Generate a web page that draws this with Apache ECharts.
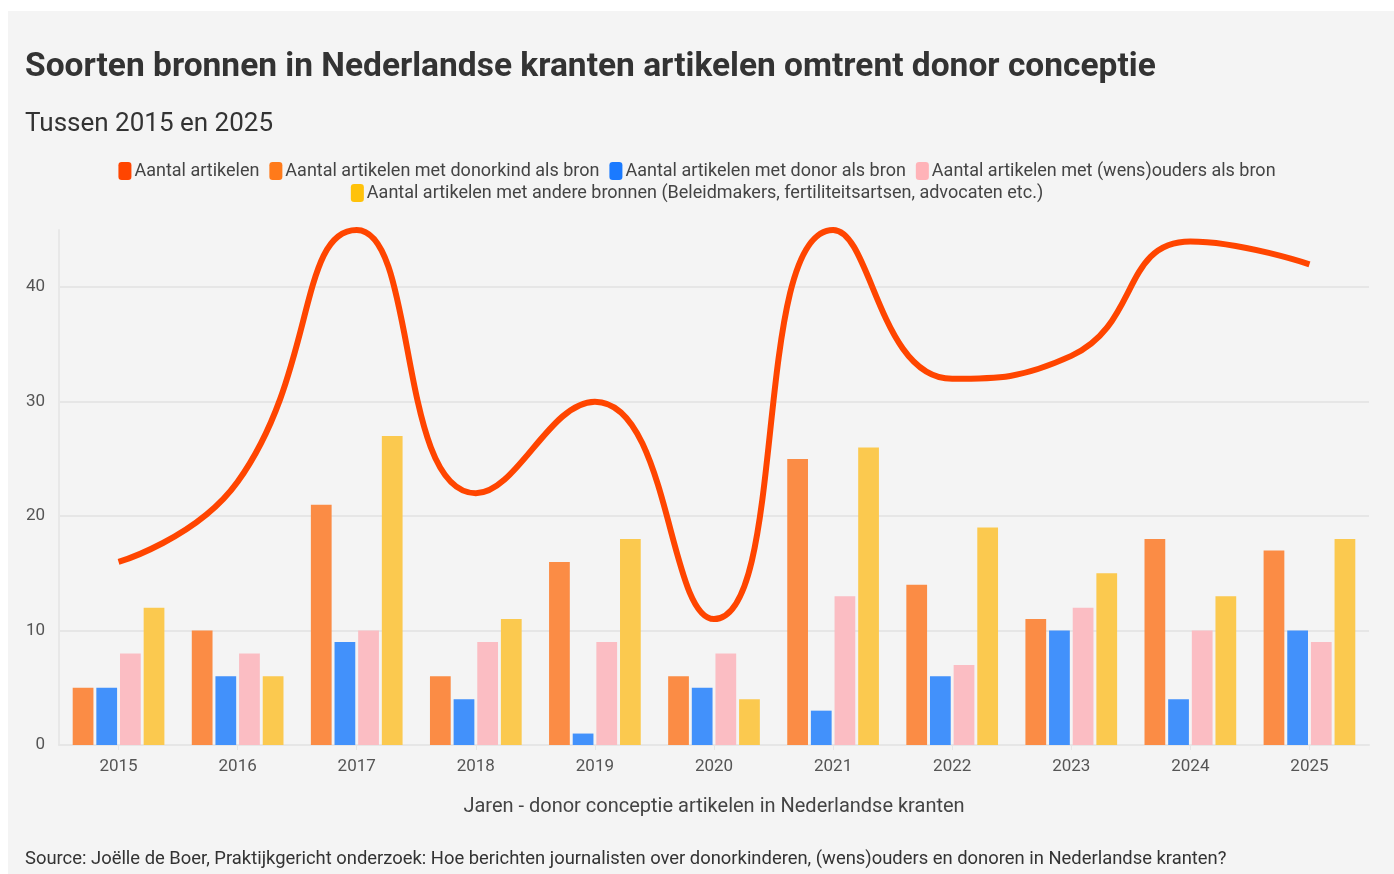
<!DOCTYPE html>
<html><head><meta charset="utf-8">
<script src="https://cdn.jsdelivr.net/npm/echarts@6/dist/echarts.min.js"></script>
<style>
html,body{margin:0;padding:0;background:#fff;}
#panel{position:absolute;left:8px;top:11px;right:0;bottom:0;background:#f4f4f4;}
#c{position:absolute;left:0;top:0;width:1394px;height:874px;}
</style></head>
<body>
<div id="panel"></div>
<div id="c"></div>
<script>
const years = ['2015','2016','2017','2018','2019','2020','2021','2022','2023','2024','2025'];
const totalArticles = [16, 23, 45, 22, 30, 11, 45, 32, 34, 44, 42];
const donorkindSource = [5, 10, 21, 6, 16, 6, 25, 14, 11, 18, 17];
const donorSource = [5, 6, 9, 4, 1, 5, 3, 6, 10, 4, 10];
const parentsSource = [8, 8, 10, 9, 9, 8, 13, 7, 12, 10, 9];
const otherSource = [12, 6, 27, 11, 18, 4, 26, 19, 15, 13, 18];
const seriesNames = [
  'Aantal artikelen',
  'Aantal artikelen met donorkind als bron',
  'Aantal artikelen met donor als bron',
  'Aantal artikelen met (wens)ouders als bron',
  'Aantal artikelen met andere bronnen (Beleidmakers, fertiliteitsartsen, advocaten etc.)'
];
const legendColors = ['#ff4500', '#ff7a1a', '#1a7aff', '#ffb3b8', '#ffc20a'];
const barColors = ['#fb8c45', '#4291fb', '#fbbdc3', '#fbc94f'];

const font = 'Roboto, "Noto Sans", sans-serif';
const chart = echarts.init(document.getElementById('c'), null, {renderer:'canvas'});
const barSeries = (name, data, color) => ({
  name, type:'bar', data, barGap:'14%', barCategoryGap:'23%',
  itemStyle:{color}, z:2
});
const legendBase = {
  left:'center', itemGap:10, itemWidth:13, itemHeight:18, icon:'roundRect', padding:0,
  textStyle:{fontSize:18, color:'#444', fontFamily:font, padding:[0,0,0,-2]}
};
const legendItem = (i) => ({name:seriesNames[i], itemStyle:{color:legendColors[i], opacity:1}});
chart.setOption({
  backgroundColor:'transparent',
  textStyle:{fontFamily:font},
  title:[
    {text:'Soorten bronnen in Nederlandse kranten artikelen omtrent donor conceptie', left:25, top:51, padding:0,
     textStyle:{fontSize:33.5, fontWeight:'bold', color:'#333', fontFamily:font}},
    {text:'Tussen 2015 en 2025', left:25, top:111, padding:0,
     textStyle:{fontSize:26, fontWeight:'normal', color:'#333', fontFamily:font}},
    {text:'Source: Joëlle de Boer, Praktijkgericht onderzoek: Hoe berichten journalisten over donorkinderen, (wens)ouders en donoren in Nederlandse kranten?', left:25, top:850, padding:0,
     textStyle:{fontSize:18.4, fontWeight:'normal', color:'#333', fontFamily:font}}
  ],
  legend:[
    Object.assign({}, legendBase, {top:162, data:[0,1,2,3].map(legendItem)}),
    Object.assign({}, legendBase, {top:184, data:[4].map(legendItem)})
  ],
  grid:{left:59, right:25, top:230, bottom:129, containLabel:false},
  xAxis:{
    type:'category', data:years,
    name:'Jaren - donor conceptie artikelen in Nederlandse kranten',
    nameLocation:'middle', nameGap:52,
    nameTextStyle:{fontSize:20, color:'#444', fontFamily:font},
    axisLine:{show:true, lineStyle:{color:'#e6e6e6', width:2}},
    axisTick:{show:true, alignWithLabel:true, length:5, lineStyle:{color:'#e6e6e6'}},
    axisLabel:{fontSize:17, color:'#555', margin:13, fontFamily:font}
  },
  yAxis:{
    type:'value', min:0, max:45, interval:10,
    axisLine:{show:true, lineStyle:{color:'#e8e8e8', width:2}},
    axisTick:{show:false},
    axisLabel:{fontSize:17, color:'#555', margin:14, showMaxLabel:false, fontFamily:font},
    splitLine:{show:true, showMaxLine:false, lineStyle:{color:'#e6e6e6', width:2}}
  },
  series:[
    {name:seriesNames[0], type:'line', data:totalArticles, smooth:true, symbol:'none',
     lineStyle:{color:legendColors[0], width:6}, itemStyle:{color:legendColors[0]}, z:5},
    barSeries(seriesNames[1], donorkindSource, barColors[0]),
    barSeries(seriesNames[2], donorSource, barColors[1]),
    barSeries(seriesNames[3], parentsSource, barColors[2]),
    barSeries(seriesNames[4], otherSource, barColors[3])
  ]
});
</script>
</body></html>
